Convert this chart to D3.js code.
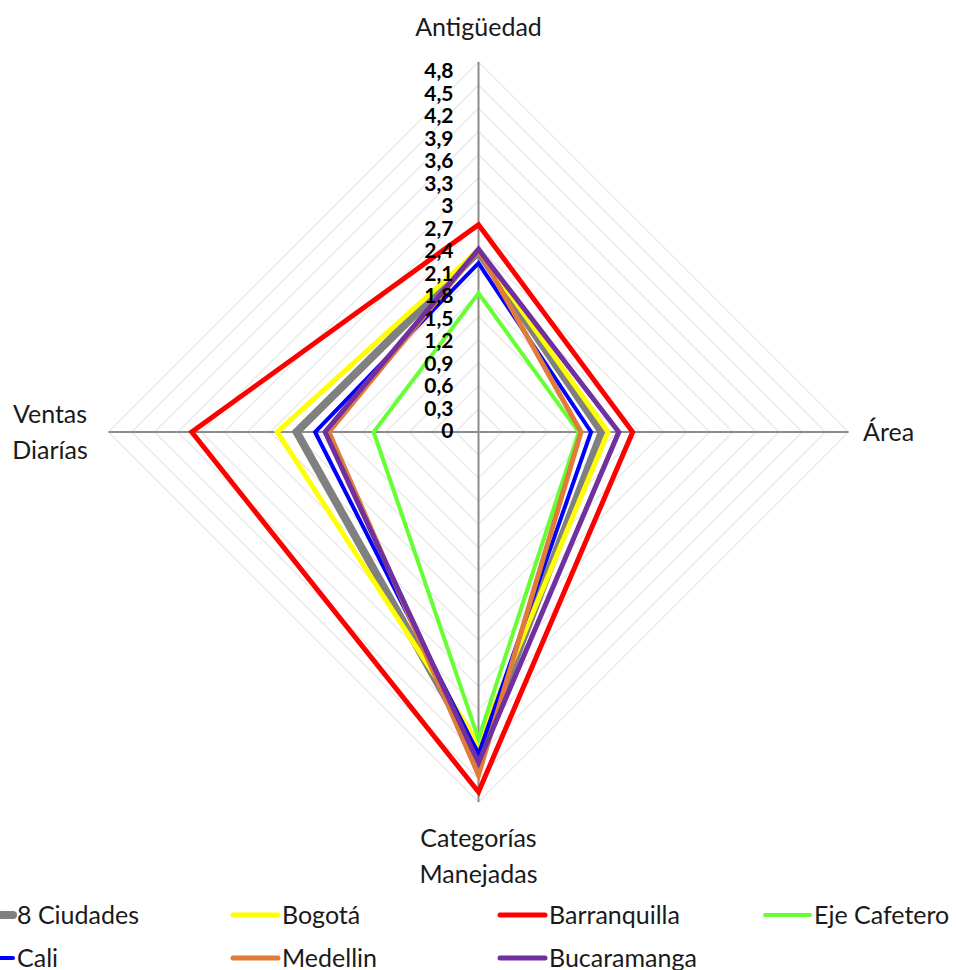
<!DOCTYPE html>
<meta charset="utf-8">
<style>
body { margin: 0; background: #fff; }
svg { display: block; }
.grid { fill: none; stroke: #ebebeb; stroke-width: 1.5px; }
.spoke { stroke: #8c8c8c; stroke-width: 2px; }
.serie { fill: none; stroke-linejoin: miter; }
.tick { font-family: Lato, "Open Sans", sans-serif; font-weight: bold; font-size: 21px; fill: #000; }
.axlab, .leg { font-family: Lato, "Open Sans", sans-serif; font-size: 25px; fill: #1a1a1a; }
</style>
<body>
<script src="https://d3js.org/d3.v7.min.js"></script>
<script>

// data
var axes = ["Antigüedad", "Área", "Categorías Manejadas", "Ventas Diarías"];
var seriesNames = ["8 Ciudades", "Bogotá", "Barranquilla", "Eje Cafetero", "Cali", "Medellin", "Bucaramanga"];
var ciudades8   = [2.34, 1.60, 4.20, 2.36];
var bogota      = [2.36, 1.68, 4.04, 2.61];
var barranquilla= [2.69, 2.00, 4.67, 3.72];
var ejeCafetero = [1.80, 1.30, 3.98, 1.36];
var cali        = [2.19, 1.46, 4.18, 2.12];
var medellin    = [2.36, 1.33, 4.45, 1.94];
var bucaramanga = [2.37, 1.82, 4.29, 1.99];
var tickValues = [0, 0.3, 0.6, 0.9, 1.2, 1.5, 1.8, 2.1, 2.4, 2.7, 3, 3.3, 3.6, 3.9, 4.2, 4.5, 4.8];

var colors = ["#808080", "#ffff00", "#ff0000", "#66ff33", "#0000ff", "#e07b39", "#7030a0"];
var widths = [8, 5, 5, 4, 4, 5, 5];
var values = [ciudades8, bogota, barranquilla, ejeCafetero, cali, medellin, bucaramanga];

var W = 956, H = 970;
var cx = 478.5, cy = 432, R = 370;

var svg = d3.select("body").append("svg")
    .attr("width", W)
    .attr("height", H);

var g = svg.append("g").attr("transform", "translate(" + cx + "," + cy + ")");

// radial scale and angles
var r = d3.scaleLinear().domain([0, 4.8]).range([0, R]);
var angle = d3.scalePoint().domain(d3.range(axes.length)).range([0, 2 * Math.PI * 3 / 4]);

var radar = d3.lineRadial()
    .angle(function(d, i) { return angle(i); })
    .radius(function(d) { return r(d); })
    .curve(d3.curveLinearClosed);

// gridlines
g.selectAll(".grid")
  .data(tickValues.slice(1))
  .enter().append("path")
    .attr("class", "grid")
    .attr("d", function(t) { return radar(axes.map(function() { return t; })); });

// spokes
g.selectAll(".spoke")
  .data(axes)
  .enter().append("line")
    .attr("class", "spoke")
    .attr("x1", 0).attr("y1", 0)
    .attr("x2", function(d, i) { return r(4.8) * Math.sin(angle(i)); })
    .attr("y2", function(d, i) { return -r(4.8) * Math.cos(angle(i)); });

// series
g.selectAll(".serie")
  .data(values)
  .enter().append("path")
    .attr("class", "serie")
    .attr("stroke", function(d, i) { return colors[i]; })
    .attr("stroke-width", function(d, i) { return widths[i]; })
    .attr("d", radar);

// value axis labels (Excel spaces them slightly tighter than the grid)
var labelY = d3.scaleLinear().domain([0, 4.8]).range([-1, -361]);
g.selectAll(".tick")
  .data(tickValues)
  .enter().append("text")
    .attr("class", "tick")
    .attr("x", -25)
    .attr("y", function(d) { return labelY(d); })
    .attr("dy", "0.35em")
    .attr("text-anchor", "end")
    .text(function(d) { return String(d).replace(".", ","); });

// category labels
function catLabel(lines, x, y, anchor) {
  var t = svg.append("text").attr("class", "axlab").attr("text-anchor", anchor);
  lines.forEach(function(s, k) {
    t.append("tspan").attr("x", x).attr("y", y + k * 36).text(s);
  });
}
catLabel(["Antigüedad"], cx, 36, "middle");
catLabel(["Área"], 863, 441, "start");
catLabel(["Ventas", "Diarías"], 50, 423, "middle");
catLabel(["Categorías", "Manejadas"], cx, 847, "middle");

// legend
var legX = [17, 282, 549, 814];
var legY = [915, 958];
var leg = svg.selectAll(".legitem")
  .data(seriesNames)
  .enter().append("g")
    .attr("class", "legitem")
    .attr("transform", function(d, i) {
      return "translate(" + legX[i % 4] + "," + legY[Math.floor(i / 4)] + ")";
    });
leg.append("line")
    .attr("x1", -49).attr("x2", -4)
    .attr("y1", 0).attr("y2", 0)
    .attr("stroke", function(d, i) { return colors[i]; })
    .attr("stroke-width", function(d, i) { return widths[i]; })
    .attr("stroke-linecap", "round");
leg.append("text")
    .attr("class", "leg")
    .attr("x", 0)
    .attr("dy", "0.35em")
    .text(function(d) { return d; });

</script>
</body>
